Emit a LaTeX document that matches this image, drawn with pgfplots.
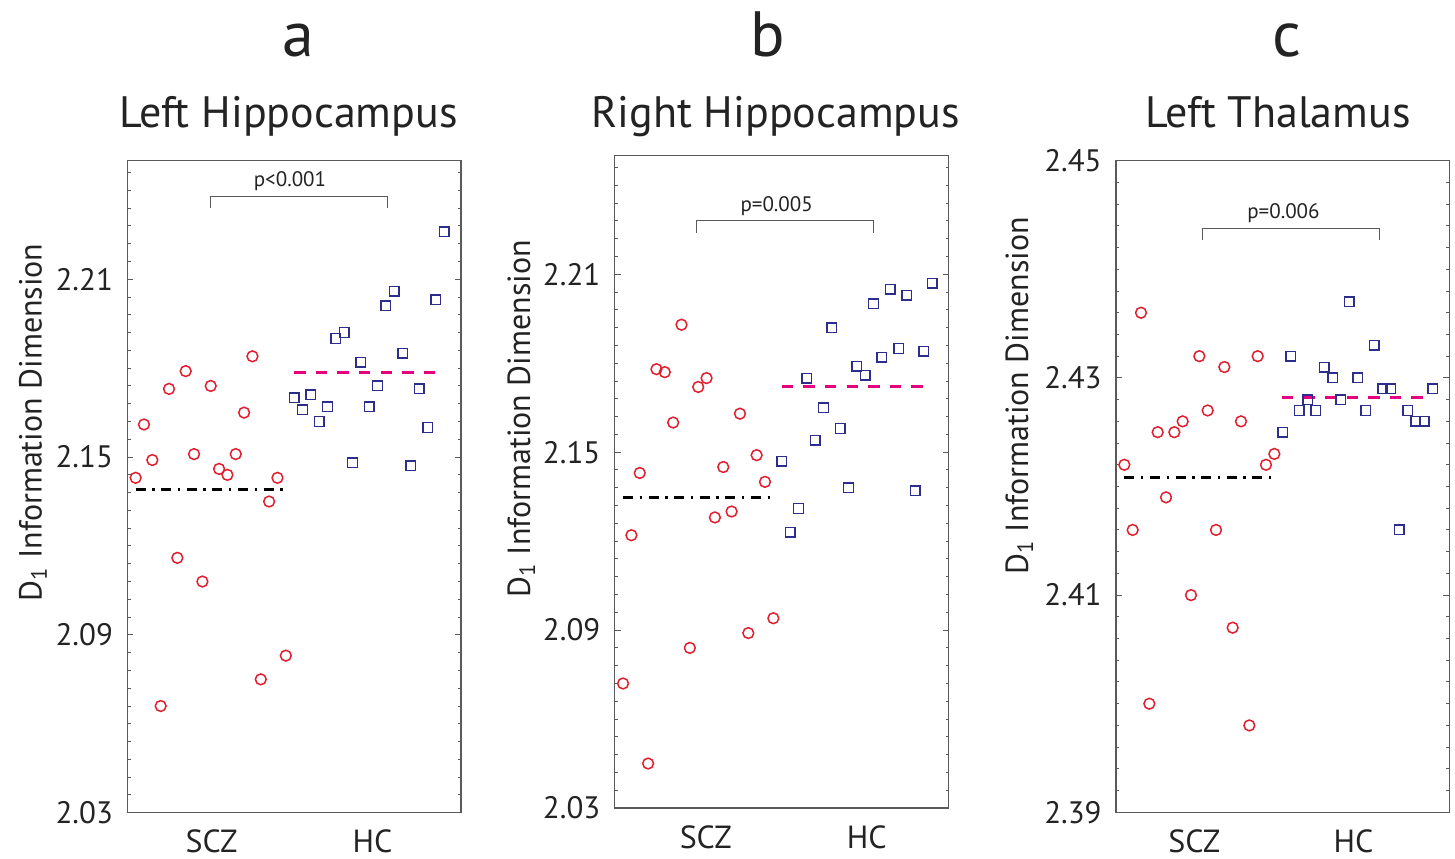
\documentclass[border=0pt]{standalone}
\usepackage{fontspec}
\setmainfont{PT Sans}
\usepackage{pgfplots}
\pgfplotsset{compat=1.18}

\definecolor{scz}{RGB}{225,30,45}
\definecolor{hc}{RGB}{45,45,140}
\definecolor{mag}{RGB}{230,0,126}
\definecolor{axgray}{RGB}{90,90,90}
\definecolor{txt}{RGB}{35,35,35}

\tikzset{
  pval/.style={font=\fontsize{10.5}{11}\selectfont, text=txt},
  ylab/.style={font=\fontsize{16}{16}\selectfont, text=txt, anchor=base, rotate=90},
  ttl/.style={font=\fontsize{22}{22}\selectfont, text=txt, anchor=base},
  letter/.style={font=\fontsize{32}{32}\selectfont, text=txt, anchor=base},
}

% 1 px of the reference = 0.5pt
\pgfplotsset{
  panel/.style={
    scale only axis, xmin=0, xmax=40, clip=false,
    axis line style={axgray, line width=0.6pt},
    tick style={axgray, line width=0.5pt},
    tick align=inside, ytick pos=both,
    major tick length=3pt, minor tick length=1.6pt,
    xtick style={draw=none},
    yticklabel style={font=\fontsize{15.5}{16}\selectfont, text=txt, inner sep=0pt, anchor=east, xshift=-7pt},
    xticklabel style={font=\fontsize{16}{16}\selectfont, text=txt, inner sep=0pt, anchor=north, yshift=-8.5pt},
    /pgf/number format/assume math mode=true,
    /pgf/number format/fixed, /pgf/number format/fixed zerofill,
    /pgf/number format/precision=2,
  },
  scz/.style={only marks, mark=o, mark size=2.7pt, mark options={scz, line width=0.75pt}},
  hc/.style={only marks, mark=square, mark size=2.4pt, mark options={hc, line width=0.7pt}},
  sczmean/.style={no marks, black, line width=1.5pt, dash pattern=on 5pt off 3.3pt on 1.2pt off 3.3pt},
  hcmean/.style={no marks, mag, line width=1.5pt, dash pattern=on 5.7pt off 5.1pt},
  bracket/.style={no marks, axgray, line width=0.5pt},
}

\begin{document}
\begin{tikzpicture}
\useasboundingbox (0,0) rectangle (727.5pt,429pt);

% panel titles
\node[letter] at (149.2pt,400.6pt) {a};
\node[letter] at (384pt,400.6pt) {b};
\node[letter] at (643.3pt,400.6pt) {c};
\node[ttl] at (144.2pt,365.4pt) {Left Hippocampus};
\node[ttl] at (387.9pt,365.4pt) {Right Hippocampus};
\node[ttl] at (639pt,365.4pt) {Left Thalamus};

% y labels
\node[ylab] at (20.85pt,217.8pt) {D\textsubscript{1} Information Dimension};
\node[ylab] at (265pt,219.5pt) {D\textsubscript{1} Information Dimension};
\node[ylab] at (514pt,231pt) {D\textsubscript{1} Information Dimension};

% ---- a: Left Hippocampus
\begin{axis}[panel, at={(63.65pt,22.65pt)}, anchor=south west,
  width=166.85pt, height=326pt,
  ymin=2.03, ymax=2.25,
  ytick={2.03,2.09,2.15,2.21}, minor ytick={2.036,2.042,...,2.247},
  xtick={10.1,29.4}, xticklabels={SCZ,HC}]
\addplot[scz] coordinates {
  (1,2.143) (2,2.161) (3,2.149) (4,2.066) (5,2.173) (6,2.116) (7,2.179)
  (8,2.151) (9,2.108) (10,2.174) (11,2.146) (12,2.144) (13,2.151) (14,2.165)
  (15,2.184) (16,2.075) (17,2.135) (18,2.143) (19,2.083)};
\addplot[hc] coordinates {
  (20,2.170) (21,2.166) (22,2.171) (23,2.162) (24,2.167) (25,2.190) (26,2.192)
  (27,2.148) (28,2.182) (29,2.167) (30,2.174) (31,2.201) (32,2.206) (33,2.185)
  (34,2.147) (35,2.173) (36,2.160) (37,2.203) (38,2.226)};
\addplot[sczmean] coordinates {(1,2.139) (19.1,2.139)};
\addplot[hcmean] coordinates {(20,2.1785) (37.4,2.1785)};
\addplot[bracket] coordinates {(9.96,2.234) (9.96,2.238) (31.2,2.238) (31.2,2.234)};
\node[pval] at (axis cs:19.5,2.243) {p<0.001};
\end{axis}

% ---- b: Right Hippocampus
\begin{axis}[panel, at={(307.35pt,25pt)}, anchor=south west,
  width=167pt, height=326.15pt,
  ymin=2.03, ymax=2.25,
  ytick={2.03,2.09,2.15,2.21}, minor ytick={2.036,2.042,...,2.247},
  xtick={10.9,30.2}, xticklabels={SCZ,HC}]
\addplot[scz] coordinates {
  (1,2.072) (2,2.122) (3,2.143) (4,2.045) (5,2.178) (6,2.177) (7,2.160)
  (8,2.193) (9,2.084) (10,2.172) (11,2.175) (12,2.128) (13,2.145) (14,2.130)
  (15,2.163) (16,2.089) (17,2.149) (18,2.140) (19,2.094)};
\addplot[hc] coordinates {
  (20,2.147) (21,2.123) (22,2.131) (23,2.175) (24,2.154) (25,2.165) (26,2.192)
  (27,2.158) (28,2.138) (29,2.179) (30,2.176) (31,2.200) (32,2.182) (33,2.205)
  (34,2.185) (35,2.203) (36,2.137) (37,2.184) (38,2.207)};
\addplot[sczmean] coordinates {(1,2.1347) (19,2.1347)};
\addplot[hcmean] coordinates {(20,2.172) (37.3,2.172)};
\addplot[bracket] coordinates {(9.8,2.224) (9.8,2.228) (31,2.228) (31,2.224)};
\node[pval] at (axis cs:19.4,2.233) {p=0.005};
\end{axis}

% ---- c: Left Thalamus
\begin{axis}[panel, at={(558pt,22.85pt)}, anchor=south west,
  width=166.65pt, height=325.8pt,
  ymin=2.39, ymax=2.45,
  ytick={2.39,2.41,2.43,2.45}, minor ytick={2.392,2.394,...,2.4485},
  xtick={9.4,28.5}, xticklabels={SCZ,HC}]
\addplot[scz] coordinates {
  (1,2.422) (2,2.416) (3,2.436) (4,2.400) (5,2.425) (6,2.419) (7,2.425)
  (8,2.426) (9,2.410) (10,2.432) (11,2.427) (12,2.416) (13,2.431) (14,2.407)
  (15,2.426) (16,2.398) (17,2.432) (18,2.422) (19,2.423)};
\addplot[hc] coordinates {
  (20,2.425) (21,2.432) (22,2.427) (23,2.428) (24,2.427) (25,2.431) (26,2.430)
  (27,2.428) (28,2.437) (29,2.430) (30,2.427) (31,2.433) (32,2.429) (33,2.429)
  (34,2.416) (35,2.427) (36,2.426) (37,2.426) (38,2.429)};
\addplot[sczmean] coordinates {(1,2.4208) (19,2.4208)};
\addplot[hcmean] coordinates {(19.9,2.4282) (37.3,2.4282)};
\addplot[bracket] coordinates {(10.4,2.4427) (10.4,2.4438) (31.6,2.4438) (31.6,2.4427)};
\node[pval] at (axis cs:20.1,2.4452) {p=0.006};
\end{axis}
\end{tikzpicture}
\end{document}
